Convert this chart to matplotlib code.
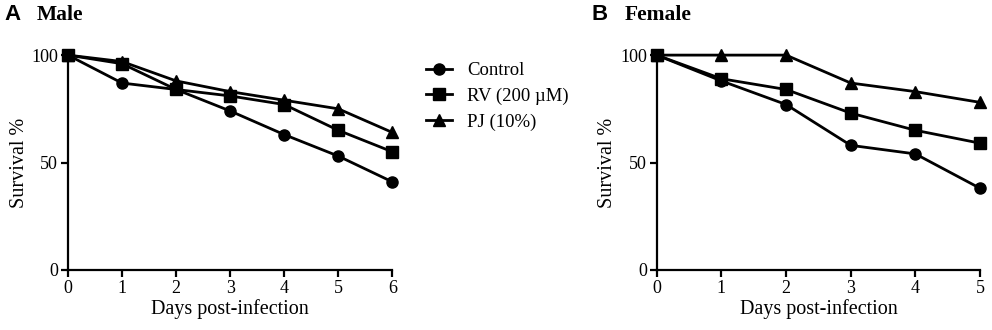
import matplotlib.pyplot as plt

plt.rcParams['font.family'] = ['Liberation Serif', 'DejaVu Serif']

# Male
male_days = [0, 1, 2, 3, 4, 5, 6]
male_control = [100, 87, 84, 74, 63, 53, 41]
male_rv = [100, 96, 84, 81, 77, 65, 55]
male_pj = [100, 97, 88, 83, 79, 75, 64]

# Female
female_days = [0, 1, 2, 3, 4, 5]
female_control = [100, 88, 77, 58, 54, 38]
female_rv = [100, 89, 84, 73, 65, 59]
female_pj = [100, 100, 100, 87, 83, 78]

labels = ['Control', 'RV (200 \u00b5M)', 'PJ (10%)']
markers = ['o', 's', '^']

fig = plt.figure(figsize=(9.92, 3.30), dpi=100)
ax_a = fig.add_axes([0.0685, 0.182, 0.327, 0.651])
ax_b = fig.add_axes([0.662, 0.182, 0.326, 0.651])


def style_axis(ax, xmax):
    ax.set_xlim(0, xmax)
    ax.set_ylim(0, 100)
    ax.set_xticks(range(xmax + 1))
    ax.set_yticks([0, 50, 100])
    for side in ['top', 'right']:
        ax.spines[side].set_visible(False)
    for side in ['left', 'bottom']:
        ax.spines[side].set_linewidth(1.6)
    ax.tick_params(direction='out', length=5, width=1.6, labelsize=13, pad=2)
    ax.set_xlabel('Days post-infection', fontsize=14.5, labelpad=2)
    ax.set_ylabel('Survival %', fontsize=14.5, labelpad=2)
    ax.set_facecolor('none')


handles = []
for ax, days, series in [
    (ax_a, male_days, [male_control, male_rv, male_pj]),
    (ax_b, female_days, [female_control, female_rv, female_pj]),
]:
    handles = []
    for vals, m, lab in zip(series, markers, labels):
        h, = ax.plot(days, vals, color='black', lw=2, marker=m, markersize=8,
                     label=lab, clip_on=False, zorder=3)
        handles.append(h)
    style_axis(ax, days[-1])

fig.legend(handles, labels, loc='upper left', bbox_to_anchor=(0.422, 0.835),
           frameon=False, fontsize=13.5, handlelength=1.4, handletextpad=0.8,
           labelspacing=0.45, borderaxespad=0)

# panel titles
fig.text(0.004, 0.955, 'A', fontsize=16, fontweight='bold', family='Liberation Sans', va='center')
fig.text(0.037, 0.955, 'Male', fontsize=15.5, fontweight='bold', va='center')
fig.text(0.596, 0.955, 'B', fontsize=16, fontweight='bold', family='Liberation Sans', va='center')
fig.text(0.630, 0.955, 'Female', fontsize=15.5, fontweight='bold', va='center')

fig.savefig('out.png', dpi=100)
